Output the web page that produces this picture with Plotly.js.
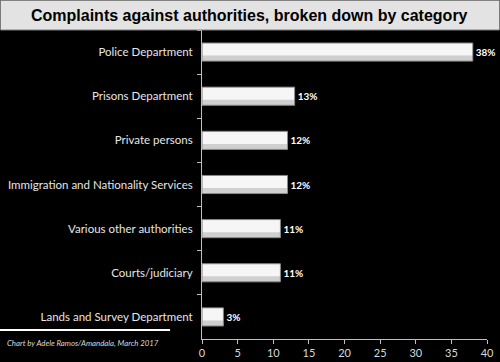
<!DOCTYPE html>
<html>
<head>
<meta charset="utf-8">
<script src="https://cdn.plot.ly/plotly-3.0.1.min.js"></script>
<style>
html,body{margin:0;padding:0;background:#000;}
#chart{width:500px;height:362px;}
</style>
</head>
<body>
<div id="chart"></div>
<script>
const categories = [
  "Police Department",
  "Prisons Department",
  "Private persons",
  "Immigration and Nationality Services",
  "Various other authorities",
  "Courts/judiciary",
  "Lands and Survey Department"
];
const values = [38, 13, 12, 12, 11, 11, 3];
const xTicks = [0, 5, 10, 15, 20, 25, 30, 35, 40];
const titleText = "Complaints against authorities, broken down by category";
const creditText = "Chart by Adele Ramos/Amandala, March 2017";

const baseBar = {
  type: "bar",
  orientation: "h",
  x: values,
  y: categories,
  width: 0.41,
  marker: {color: "#cfcfcf", line: {color: "#8a8a8a", width: 1}},
  texttemplate: "<b>%{x}%</b>",
  textposition: "outside",
  textfont: {family: "Lato, 'Open Sans', sans-serif", size: 10, color: "#ffffff"},
  cliponaxis: false,
  hoverinfo: "skip",
  showlegend: false
};
const shineBar = {
  type: "bar",
  orientation: "h",
  x: values.map(v => v - 0.2),
  y: categories,
  base: 0.12,
  width: 0.27,
  offset: -0.19,
  marker: {color: "#f6f6f6", line: {width: 0}},
  hoverinfo: "skip",
  showlegend: false
};

const layout = {
  width: 500,
  height: 362,
  paper_bgcolor: "#000",
  plot_bgcolor: "#000",
  margin: {l: 202, r: 13, t: 30, b: 23},
  barmode: "overlay",
  xaxis: {
    range: [0, 40],
    tickvals: xTicks,
    ticktext: xTicks.map(String),
    showgrid: false,
    zeroline: false,
    showline: true,
    linecolor: "#bfbfbf",
    linewidth: 1,
    ticks: "outside",
    ticklen: 4,
    tickcolor: "#bfbfbf",
    tickfont: {family: "Lato, 'Open Sans', sans-serif", size: 11, color: "#d9d9d9"},
    fixedrange: true
  },
  yaxis: {
    type: "category",
    categoryorder: "array",
    categoryarray: categories,
    autorange: "reversed",
    showgrid: false,
    zeroline: false,
    showline: true,
    linecolor: "#bfbfbf",
    linewidth: 1,
    ticks: "outside",
    tickson: "boundaries",
    ticklen: 4,
    tickcolor: "#bfbfbf",
    ticklabelstandoff: 6,
    tickfont: {family: "Lato, 'Open Sans', sans-serif", size: 11.5, color: "#e6e6e6"},
    fixedrange: true
  },
  shapes: [
    {type: "rect", xref: "paper", yref: "paper", x0: -0.707, x1: 1.0439, y0: 1.0, y1: 1.096,
     fillcolor: "#e3e3e3", line: {color: "#7a7a7a", width: 1}, layer: "above"},
    {type: "line", xref: "paper", yref: "paper", x0: -0.709, x1: -0.112, y0: 0.029, y1: 0.029,
     line: {color: "#ffffff", width: 2}}
  ],
  annotations: [
    {text: "<b>" + titleText + "</b>", xref: "paper", yref: "paper", x: 0.1684, y: 1.048,
     xanchor: "center", yanchor: "middle", showarrow: false,
     font: {family: "'Liberation Sans', Arial, sans-serif", size: 16, color: "#000"}},
    {text: "<i>" + creditText + "</i>", xref: "paper", yref: "paper", x: -0.691, y: -0.013,
     xanchor: "left", yanchor: "middle", showarrow: false,
     font: {family: "Lato, 'Open Sans', sans-serif", size: 7.8, color: "#d9d9d9"}}
  ]
};

Plotly.newPlot("chart", [baseBar, shineBar], layout, {displayModeBar: false, staticPlot: true});
</script>
</body>
</html>
